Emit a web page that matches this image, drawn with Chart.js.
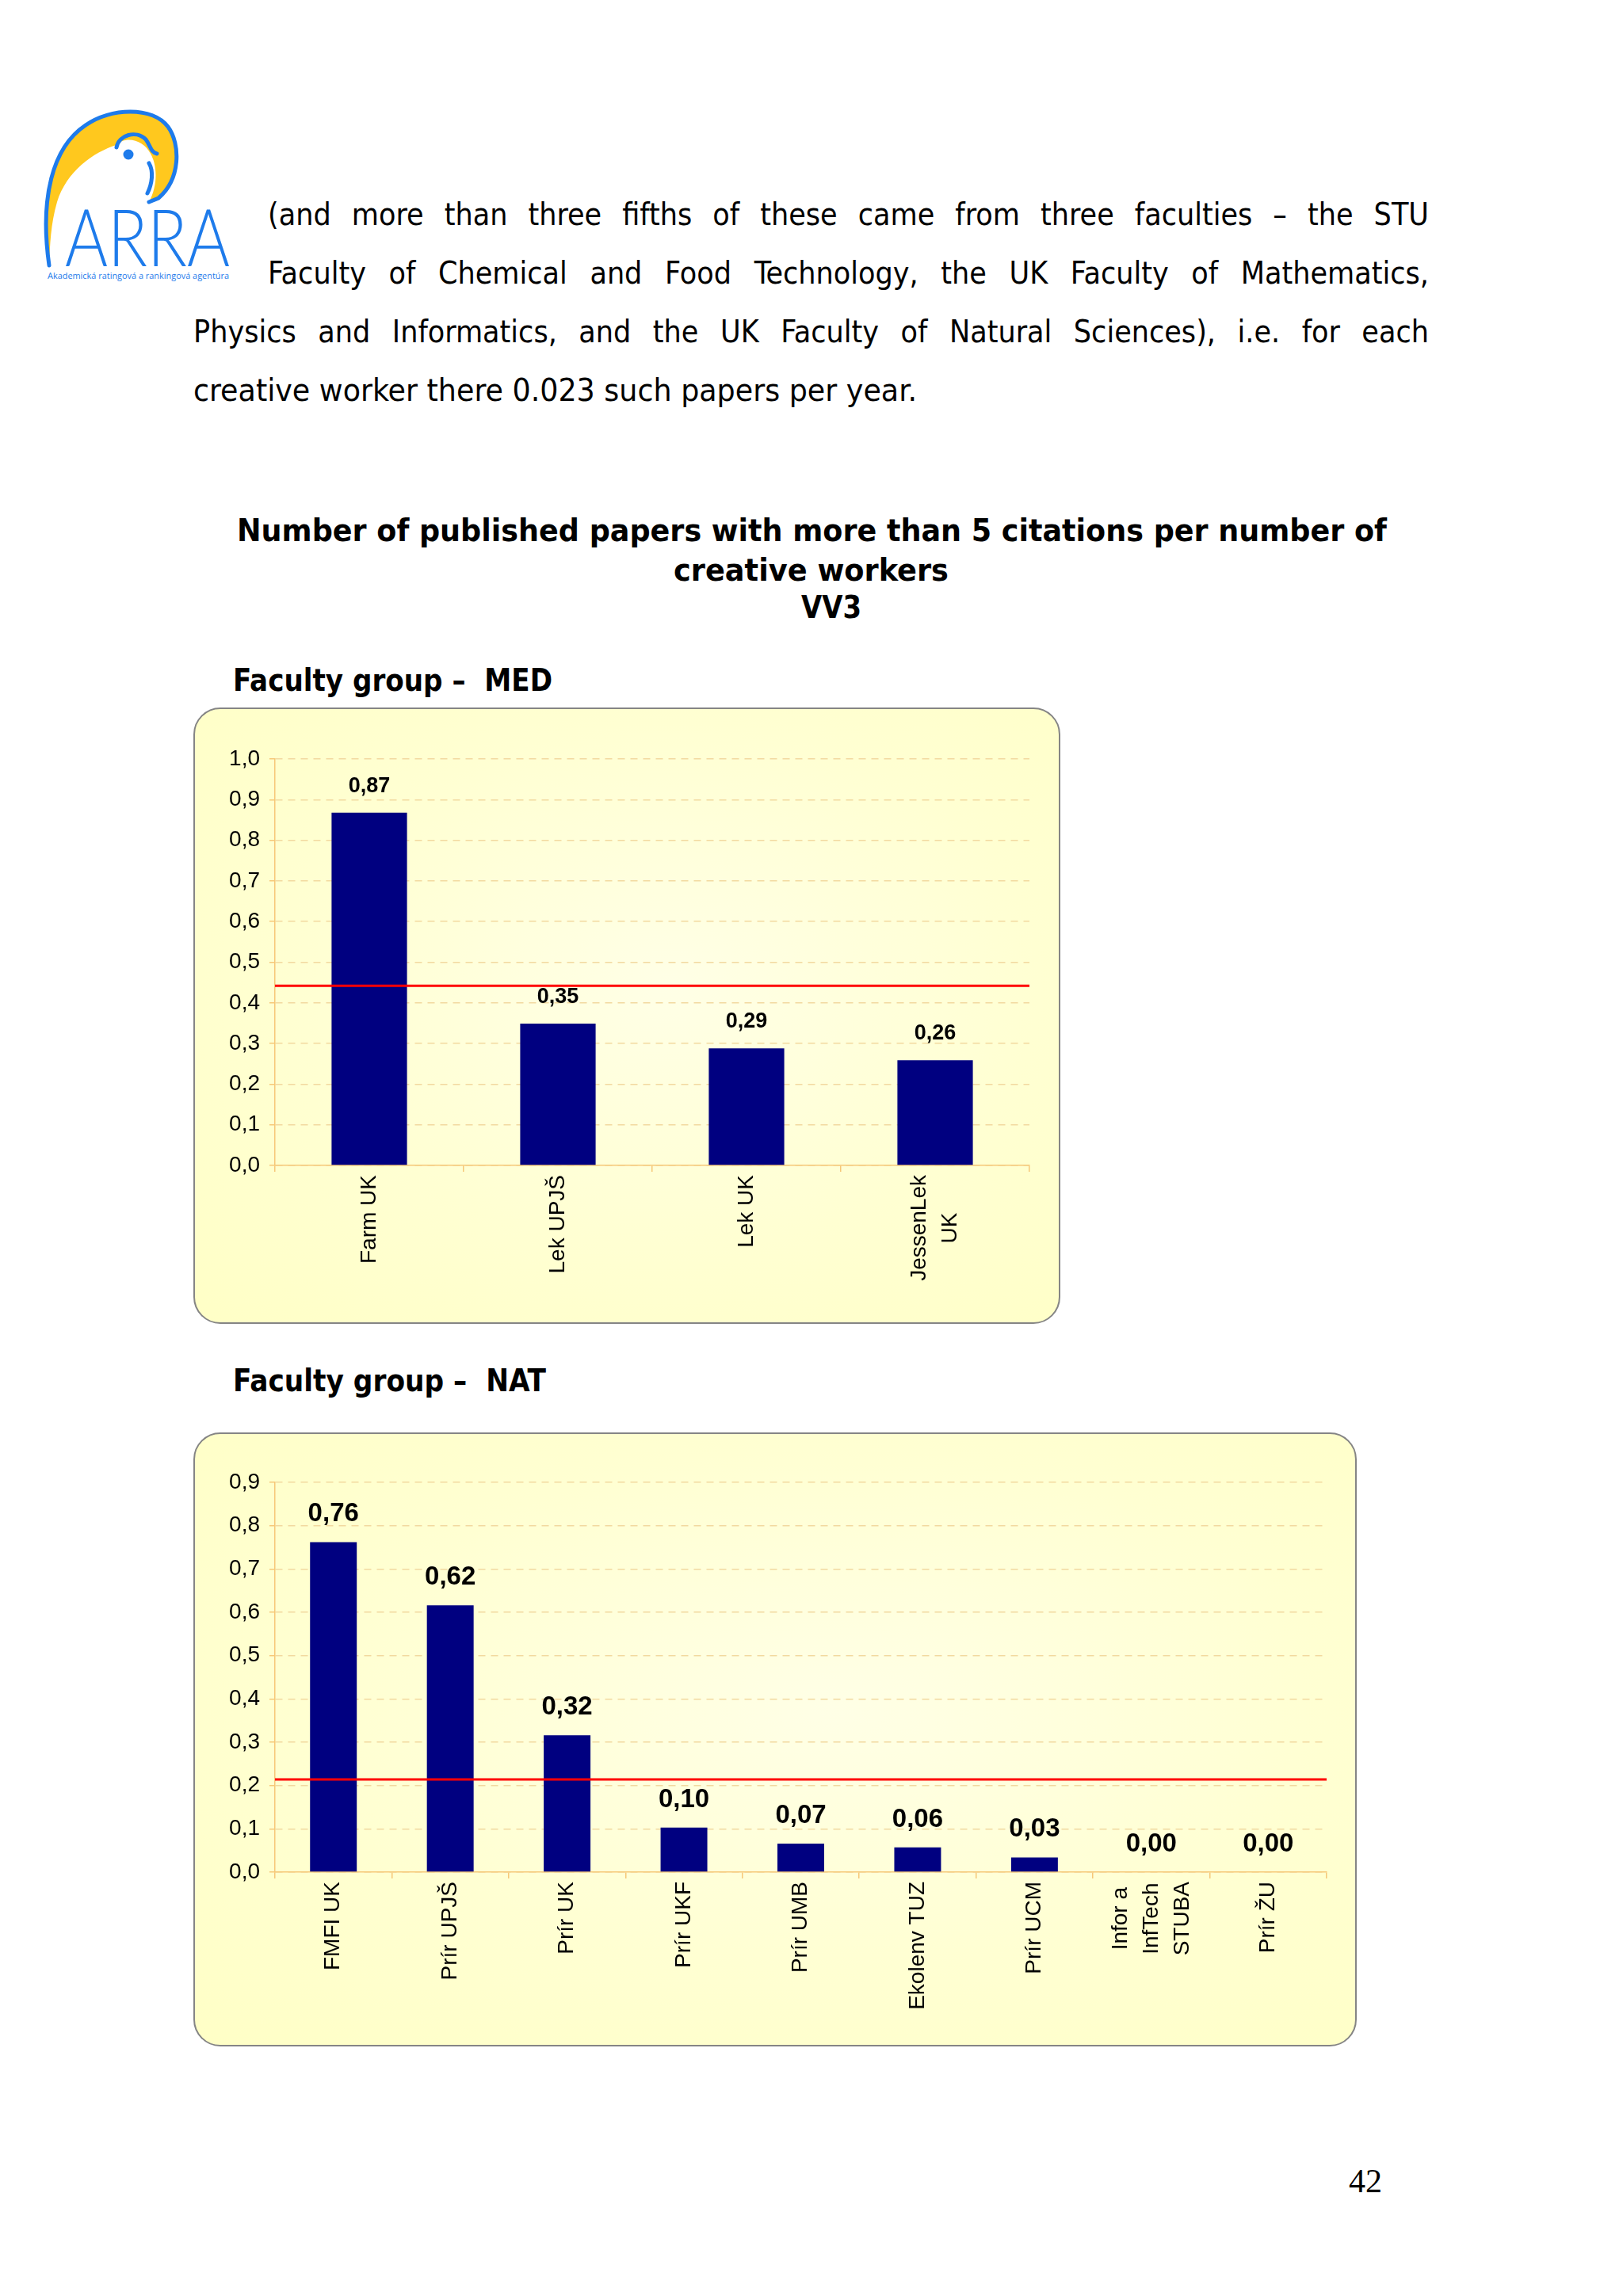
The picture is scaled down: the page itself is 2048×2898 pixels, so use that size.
<!DOCTYPE html>
<html>
<head>
<meta charset="utf-8">
<title>VV3 - papers with more than 5 citations per creative worker</title>
<script src="https://cdn.jsdelivr.net/npm/chart.js"></script>
<style>
  body { margin: 0; background: #fff; }
  #page { position: relative; width: 2048px; height: 2898px; overflow: hidden; background: #fff; }
  .txt { position: absolute; white-space: nowrap; line-height: 1; color: #000; font-size: 39px;
         font-family: 'DejaVu Sans Condensed', 'DejaVu Sans', Tahoma, sans-serif; font-stretch: condensed;
         transform-origin: 0 0; }
  .bold { font-weight: bold; }
  .box { position: absolute; box-sizing: border-box; border: 2px solid #858585; border-radius: 34px;
         background: radial-gradient(ellipse at 55% 45%, #FFFFE6 0%, #FFFFD2 55%, #FFFFC6 100%); }
  canvas { position: absolute; }
  #pageno { position: absolute; left: 1702px; top: 2732px; line-height: 1; font-size: 42px;
            font-family: 'Liberation Serif', 'Times New Roman', serif; }
</style>
</head>
<body>
<div id="page">
  <svg style="position:absolute;left:0;top:0" width="330" height="400" viewBox="0 0 330 400">
    <path d="M 62 335 C 50 250, 66 186, 108 158 C 140 136, 192 134, 212 160 C 228 182, 228 226, 200 250 L 188 255
             C 200 232, 198 208, 190 194 C 182 178, 160 170, 147 183 C 118 192, 84 216, 72 255 C 64 282, 63 310, 62 335 Z"
          fill="#FFC81E"/>
    <path d="M 62 335 C 50 250, 66 186, 108 158 C 140 136, 192 134, 212 160 C 228 182, 228 226, 200 250 L 188 255"
          fill="none" stroke="#1E7BEB" stroke-width="5" stroke-linecap="round"/>
    <path d="M 147 186 C 150 170, 172 164, 184 176 C 190 184, 190 192, 198 194 M 188 206 C 194 216, 192 232, 186 244"
          fill="none" stroke="#1E7BEB" stroke-width="5" stroke-linecap="round"/>
    <circle cx="162" cy="195" r="6.5" fill="#1E7BEB"/>
    <text x="82" y="336" font-family="Lato, 'Open Sans', sans-serif" font-weight="300" font-size="100"
          fill="#1E7BEB" textLength="208" lengthAdjust="spacingAndGlyphs">ARRA</text>
    <text x="60" y="352" font-family="'Open Sans', sans-serif" font-size="10" fill="#1E7BEB"
          textLength="229" lengthAdjust="spacingAndGlyphs">Akademická ratingová a rankingová agentúra</text>
  </svg>

  <div class="txt" data-w="1465" data-j="1" style="left:338px;top:251px">(and more than three fifths of these came from three faculties – the STU</div>
  <div class="txt" data-w="1465" data-j="1" style="left:338px;top:325px">Faculty of Chemical and Food Technology, the UK Faculty of Mathematics,</div>
  <div class="txt" data-w="1559" data-j="1" style="left:244px;top:399px">Physics and Informatics, and the UK Faculty of Natural Sciences), i.e. for each</div>
  <div class="txt" data-w="913" style="left:244px;top:473px">creative worker there 0.023 such papers per year.</div>

  <div class="txt bold" data-w="1451" style="left:299px;top:650px">Number of published papers with more than 5 citations per number of</div>
  <div class="txt bold" data-w="347" style="left:850px;top:700px">creative workers</div>
  <div class="txt bold" data-w="76" style="left:1011px;top:747px">VV3</div>

  <div class="txt bold" data-w="403" style="left:294px;top:839px">Faculty group –&nbsp; MED</div>
  <div class="box" style="left:244px;top:893px;width:1094px;height:778px"></div>
  <canvas id="medChart" width="1094" height="778" style="left:244px;top:893px"></canvas>

  <div class="txt bold" data-w="395" style="left:294px;top:1723px">Faculty group –&nbsp; NAT</div>
  <div class="box" style="left:244px;top:1808px;width:1468px;height:775px"></div>
  <canvas id="natChart" width="1468" height="775" style="left:244px;top:1808px"></canvas>

  <div id="pageno">42</div>
</div>

<script>
// MED faculty group
const medCategories = ['Farm UK', 'Lek UPJŠ', 'Lek UK', ['JessenLek', 'UK']];
const medValues = [0.868, 0.349, 0.288, 0.259];
const medAverage = 0.442;
const medMax = 1.0;

// NAT faculty group
const natCategories = ['FMFI UK', 'Prír UPJŠ', 'Prír UK', 'Prír UKF', 'Prír UMB', 'Ekolenv TUZ', 'Prír UCM',
  ['Infor a', 'InfTech', 'STUBA'], 'Prír ŽU'];
const natValues = [0.762, 0.616, 0.316, 0.103, 0.066, 0.057, 0.034, 0.0, 0.0];
const natAverage = 0.214;
const natMax = 0.9;

const FONT = "'Liberation Sans', Arial, sans-serif";
const axisColor = '#F6C878';
const gridColor = '#F2D9A0';

// fit each text line to the width it takes in the scanned page
document.querySelectorAll('.txt[data-w]').forEach(el => {
  const w = +el.dataset.w;
  const natural = el.getBoundingClientRect().width;
  const spaces = (el.textContent.match(/ /g) || []).length;
  if (el.dataset.j && natural <= w && spaces) {
    el.style.wordSpacing = ((w - natural) / spaces) + 'px';
  } else {
    el.style.transform = 'scaleX(' + (w / natural) + ')';
  }
});

Chart.defaults.font.family = FONT;

// red average line, value labels and rotated category labels
const overlay = {
  id: 'overlay',
  afterDatasetsDraw(chart, args, o) {
    const { ctx, chartArea, scales: { x, y } } = chart;
    ctx.save();

    const ya = y.getPixelForValue(o.average);
    ctx.strokeStyle = '#FF0000';
    ctx.lineWidth = 3;
    ctx.beginPath();
    ctx.moveTo(chartArea.left, ya);
    ctx.lineTo(chartArea.right, ya);
    ctx.stroke();

    ctx.fillStyle = '#000';
    ctx.font = 'bold ' + o.valueSize + 'px ' + FONT;
    ctx.textAlign = 'center';
    ctx.textBaseline = 'alphabetic';
    const values = chart.data.datasets[0].data;
    chart.getDatasetMeta(0).data.forEach((bar, i) => {
      ctx.fillText(values[i].toFixed(2).replace('.', ','), bar.x, bar.y - o.valueGap);
    });

    ctx.font = o.catSize + 'px ' + FONT;
    chart.data.labels.forEach((lab, i) => {
      const lines = Array.isArray(lab) ? lab : [lab];
      const wMax = Math.max(...lines.map(s => ctx.measureText(s).width));
      const cx = x.getPixelForValue(i);
      const cy = chartArea.bottom + o.catGap + wMax / 2;
      lines.forEach((s, k) => {
        ctx.save();
        ctx.translate(cx + (k - (lines.length - 1) / 2) * o.catLine, cy);
        ctx.rotate(-Math.PI / 2);
        ctx.textAlign = 'center';
        ctx.textBaseline = 'middle';
        ctx.fillText(s, 0, 0);
        ctx.restore();
      });
    });
    ctx.restore();
  }
};

function buildChart(id, categories, values, average, yMax, lay) {
  return new Chart(document.getElementById(id), {
    type: 'bar',
    data: {
      labels: categories,
      datasets: [{ data: values, backgroundColor: '#000080', barPercentage: 0.4, categoryPercentage: 1 }]
    },
    options: {
      responsive: false,
      animation: false,
      events: [],
      layout: { padding: lay.padding },
      plugins: {
        legend: { display: false },
        tooltip: { enabled: false },
        overlay: { average: average, valueSize: lay.valueSize, valueGap: 26, catSize: 28,
                   catGap: 12, catLine: 39 }
      },
      scales: {
        x: {
          ticks: { display: false },
          grid: { drawOnChartArea: false, tickLength: 8, color: axisColor, lineWidth: 1.5 },
          border: { color: axisColor, width: 1.5 },
          afterFit: s => { s.height = 120; }
        },
        y: {
          min: 0,
          max: yMax,
          ticks: { stepSize: 0.1, padding: 12, color: '#000', font: { size: 28 },
                   callback: v => v.toFixed(1).replace('.', ',') },
          grid: { color: gridColor, lineWidth: 1.5, tickLength: 7, tickColor: axisColor },
          border: { color: axisColor, width: 1.5, dash: [9, 7] },
          afterFit: s => { s.width = 103; }
        }
      }
    },
    plugins: [overlay]
  });
}

buildChart('medChart', medCategories, medValues, medAverage, medMax,
  { padding: { top: 65, right: 39, bottom: 80, left: 0 }, valueSize: 27 });
buildChart('natChart', natCategories, natValues, natAverage, natMax,
  { padding: { top: 63, right: 38, bottom: 100, left: 0 }, valueSize: 33 });
</script>
</body>
</html>
